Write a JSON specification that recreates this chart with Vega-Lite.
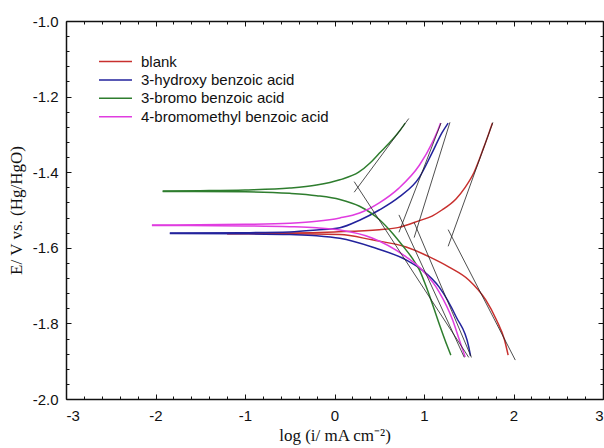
{
  "$schema": "https://vega.github.io/schema/vega-lite/v6.json",
  "width": 537,
  "height": 378,
  "autosize": {"type": "none"},
  "padding": {"left": 66, "top": 21, "right": 1, "bottom": 49},
  "background": "white",
  "config": {
    "view": {"stroke": null},
    "locale": {"number": {"decimal": ".", "thousands": ",", "grouping": [3], "currency": ["$", ""], "minus": "-"}},
    "axis": {"grid": false, "domainColor": "#111", "tickColor": "#111", "domainWidth": 1.5, "tickWidth": 1, "labelFont": "Liberation Sans", "labelFontSize": 15, "labelColor": "#111", "titleFont": "Liberation Serif", "titleFontSize": 17, "titleFontWeight": "normal", "titleColor": "#111"},
    "legend": {"orient": "none", "legendX": 40, "legendY": 31, "title": null, "symbolType": "M-1.94,0H1.94", "symbolSize": 289, "symbolStrokeWidth": 1.5, "labelFont": "Liberation Sans", "labelFontSize": 15, "labelColor": "#111", "labelOffset": 16, "labelLimit": 400, "rowPadding": 0.4}
  },
  "datasets": {
    "curves": [
      {"s": "blank", "b": "a", "x": -1.2, "y": -1.562},
      {"s": "blank", "b": "a", "x": -0.5, "y": -1.561},
      {"s": "blank", "b": "a", "x": 0.0, "y": -1.558},
      {"s": "blank", "b": "a", "x": 0.5, "y": -1.552},
      {"s": "blank", "b": "a", "x": 0.72, "y": -1.546},
      {"s": "blank", "b": "a", "x": 0.95, "y": -1.528},
      {"s": "blank", "b": "a", "x": 1.09, "y": -1.516},
      {"s": "blank", "b": "a", "x": 1.2, "y": -1.5},
      {"s": "blank", "b": "a", "x": 1.36, "y": -1.47},
      {"s": "blank", "b": "a", "x": 1.46, "y": -1.44},
      {"s": "blank", "b": "a", "x": 1.56, "y": -1.4},
      {"s": "blank", "b": "a", "x": 1.67, "y": -1.333},
      {"s": "blank", "b": "a", "x": 1.75, "y": -1.28},
      {"s": "blank", "b": "a", "x": 1.765, "y": -1.27},
      {"s": "blank", "b": "c", "x": -1.2, "y": -1.563},
      {"s": "blank", "b": "c", "x": -0.5, "y": -1.563},
      {"s": "blank", "b": "c", "x": 0.06, "y": -1.565},
      {"s": "blank", "b": "c", "x": 0.42, "y": -1.579},
      {"s": "blank", "b": "c", "x": 0.8, "y": -1.598},
      {"s": "blank", "b": "c", "x": 1.06, "y": -1.624},
      {"s": "blank", "b": "c", "x": 1.28, "y": -1.651},
      {"s": "blank", "b": "c", "x": 1.5, "y": -1.685},
      {"s": "blank", "b": "c", "x": 1.69, "y": -1.738},
      {"s": "blank", "b": "c", "x": 1.81, "y": -1.791},
      {"s": "blank", "b": "c", "x": 1.9, "y": -1.844},
      {"s": "blank", "b": "c", "x": 1.94, "y": -1.884},
      {"s": "3-hydroxy benzoic acid", "b": "a", "x": -1.84, "y": -1.561},
      {"s": "3-hydroxy benzoic acid", "b": "a", "x": -1.0, "y": -1.56},
      {"s": "3-hydroxy benzoic acid", "b": "a", "x": -0.5, "y": -1.558},
      {"s": "3-hydroxy benzoic acid", "b": "a", "x": -0.2, "y": -1.553},
      {"s": "3-hydroxy benzoic acid", "b": "a", "x": 0.06, "y": -1.547},
      {"s": "3-hydroxy benzoic acid", "b": "a", "x": 0.28, "y": -1.527},
      {"s": "3-hydroxy benzoic acid", "b": "a", "x": 0.5, "y": -1.5},
      {"s": "3-hydroxy benzoic acid", "b": "a", "x": 0.72, "y": -1.466},
      {"s": "3-hydroxy benzoic acid", "b": "a", "x": 0.95, "y": -1.413},
      {"s": "3-hydroxy benzoic acid", "b": "a", "x": 1.09, "y": -1.349},
      {"s": "3-hydroxy benzoic acid", "b": "a", "x": 1.2, "y": -1.296},
      {"s": "3-hydroxy benzoic acid", "b": "a", "x": 1.27, "y": -1.27},
      {"s": "3-hydroxy benzoic acid", "b": "c", "x": -1.84, "y": -1.562},
      {"s": "3-hydroxy benzoic acid", "b": "c", "x": -1.0, "y": -1.563},
      {"s": "3-hydroxy benzoic acid", "b": "c", "x": -0.5, "y": -1.565},
      {"s": "3-hydroxy benzoic acid", "b": "c", "x": -0.2, "y": -1.568},
      {"s": "3-hydroxy benzoic acid", "b": "c", "x": 0.06, "y": -1.575},
      {"s": "3-hydroxy benzoic acid", "b": "c", "x": 0.42, "y": -1.598},
      {"s": "3-hydroxy benzoic acid", "b": "c", "x": 0.8, "y": -1.632},
      {"s": "3-hydroxy benzoic acid", "b": "c", "x": 0.98, "y": -1.659},
      {"s": "3-hydroxy benzoic acid", "b": "c", "x": 1.17, "y": -1.704},
      {"s": "3-hydroxy benzoic acid", "b": "c", "x": 1.36, "y": -1.783},
      {"s": "3-hydroxy benzoic acid", "b": "c", "x": 1.5, "y": -1.862},
      {"s": "3-hydroxy benzoic acid", "b": "c", "x": 1.52, "y": -1.886},
      {"s": "3-bromo benzoic acid", "b": "a", "x": -1.92, "y": -1.45},
      {"s": "3-bromo benzoic acid", "b": "a", "x": -1.5, "y": -1.449},
      {"s": "3-bromo benzoic acid", "b": "a", "x": -1.0, "y": -1.447},
      {"s": "3-bromo benzoic acid", "b": "a", "x": -0.5, "y": -1.442},
      {"s": "3-bromo benzoic acid", "b": "a", "x": -0.2, "y": -1.434},
      {"s": "3-bromo benzoic acid", "b": "a", "x": 0.06, "y": -1.42},
      {"s": "3-bromo benzoic acid", "b": "a", "x": 0.27, "y": -1.4},
      {"s": "3-bromo benzoic acid", "b": "a", "x": 0.4, "y": -1.375},
      {"s": "3-bromo benzoic acid", "b": "a", "x": 0.5, "y": -1.35},
      {"s": "3-bromo benzoic acid", "b": "a", "x": 0.65, "y": -1.313},
      {"s": "3-bromo benzoic acid", "b": "a", "x": 0.72, "y": -1.293},
      {"s": "3-bromo benzoic acid", "b": "a", "x": 0.79, "y": -1.27},
      {"s": "3-bromo benzoic acid", "b": "c", "x": -1.92, "y": -1.451},
      {"s": "3-bromo benzoic acid", "b": "c", "x": -1.0, "y": -1.452},
      {"s": "3-bromo benzoic acid", "b": "c", "x": -0.5, "y": -1.456},
      {"s": "3-bromo benzoic acid", "b": "c", "x": -0.2, "y": -1.462},
      {"s": "3-bromo benzoic acid", "b": "c", "x": 0.06, "y": -1.472},
      {"s": "3-bromo benzoic acid", "b": "c", "x": 0.28, "y": -1.49},
      {"s": "3-bromo benzoic acid", "b": "c", "x": 0.5, "y": -1.525},
      {"s": "3-bromo benzoic acid", "b": "c", "x": 0.65, "y": -1.562},
      {"s": "3-bromo benzoic acid", "b": "c", "x": 0.76, "y": -1.594},
      {"s": "3-bromo benzoic acid", "b": "c", "x": 0.87, "y": -1.628},
      {"s": "3-bromo benzoic acid", "b": "c", "x": 0.95, "y": -1.659},
      {"s": "3-bromo benzoic acid", "b": "c", "x": 1.02, "y": -1.7},
      {"s": "3-bromo benzoic acid", "b": "c", "x": 1.09, "y": -1.746},
      {"s": "3-bromo benzoic acid", "b": "c", "x": 1.18, "y": -1.808},
      {"s": "3-bromo benzoic acid", "b": "c", "x": 1.26, "y": -1.86},
      {"s": "3-bromo benzoic acid", "b": "c", "x": 1.3, "y": -1.884},
      {"s": "4-bromomethyl benzoic acid", "b": "a", "x": -2.04, "y": -1.54},
      {"s": "4-bromomethyl benzoic acid", "b": "a", "x": -1.0, "y": -1.538},
      {"s": "4-bromomethyl benzoic acid", "b": "a", "x": -0.5, "y": -1.535},
      {"s": "4-bromomethyl benzoic acid", "b": "a", "x": -0.2, "y": -1.53},
      {"s": "4-bromomethyl benzoic acid", "b": "a", "x": 0.06, "y": -1.521},
      {"s": "4-bromomethyl benzoic acid", "b": "a", "x": 0.28, "y": -1.508},
      {"s": "4-bromomethyl benzoic acid", "b": "a", "x": 0.5, "y": -1.481},
      {"s": "4-bromomethyl benzoic acid", "b": "a", "x": 0.72, "y": -1.442},
      {"s": "4-bromomethyl benzoic acid", "b": "a", "x": 0.95, "y": -1.381},
      {"s": "4-bromomethyl benzoic acid", "b": "a", "x": 1.09, "y": -1.323},
      {"s": "4-bromomethyl benzoic acid", "b": "a", "x": 1.17, "y": -1.28},
      {"s": "4-bromomethyl benzoic acid", "b": "a", "x": 1.185, "y": -1.27},
      {"s": "4-bromomethyl benzoic acid", "b": "c", "x": -2.04, "y": -1.541},
      {"s": "4-bromomethyl benzoic acid", "b": "c", "x": -1.0, "y": -1.542},
      {"s": "4-bromomethyl benzoic acid", "b": "c", "x": -0.5, "y": -1.544},
      {"s": "4-bromomethyl benzoic acid", "b": "c", "x": -0.2, "y": -1.547},
      {"s": "4-bromomethyl benzoic acid", "b": "c", "x": 0.06, "y": -1.553},
      {"s": "4-bromomethyl benzoic acid", "b": "c", "x": 0.42, "y": -1.574},
      {"s": "4-bromomethyl benzoic acid", "b": "c", "x": 0.8, "y": -1.624},
      {"s": "4-bromomethyl benzoic acid", "b": "c", "x": 0.98, "y": -1.659},
      {"s": "4-bromomethyl benzoic acid", "b": "c", "x": 1.17, "y": -1.717},
      {"s": "4-bromomethyl benzoic acid", "b": "c", "x": 1.32, "y": -1.791},
      {"s": "4-bromomethyl benzoic acid", "b": "c", "x": 1.39, "y": -1.84},
      {"s": "4-bromomethyl benzoic acid", "b": "c", "x": 1.46, "y": -1.889}
    ],
    "tafel": [
      {"t": "g-a", "x": 0.22, "y": -1.453},
      {"t": "g-a", "x": 0.83, "y": -1.258},
      {"t": "g-c", "x": 0.22, "y": -1.425},
      {"t": "g-c", "x": 1.5, "y": -1.89},
      {"t": "m-a", "x": 0.72, "y": -1.559},
      {"t": "m-a", "x": 1.19, "y": -1.27},
      {"t": "m-c", "x": 0.72, "y": -1.513},
      {"t": "m-c", "x": 1.45, "y": -1.89},
      {"t": "b-a", "x": 0.89, "y": -1.573},
      {"t": "b-a", "x": 1.29, "y": -1.268},
      {"t": "b-c", "x": 0.89, "y": -1.533},
      {"t": "b-c", "x": 1.53, "y": -1.89},
      {"t": "r-a", "x": 1.27, "y": -1.596},
      {"t": "r-a", "x": 1.77, "y": -1.268},
      {"t": "r-c", "x": 1.27, "y": -1.552},
      {"t": "r-c", "x": 2.02, "y": -1.897}
    ]
  },
  "layer": [
    {
      "data": {"name": "curves"},
      "mark": {"type": "line", "strokeWidth": 1.5, "interpolate": "monotone"},
      "encoding": {
        "x": {"field": "x", "type": "quantitative", "scale": {"domain": [-3, 3], "nice": false, "zero": false},
          "axis": {"orient": "bottom", "values": [-3, -2, -1, 0, 1, 2, 3], "format": "d", "tickSize": -5, "labelPadding": 14, "title": "log (i/ mA cm⁻²)", "titlePadding": 4}},
        "y": {"field": "y", "type": "quantitative", "scale": {"domain": [-2, -1], "nice": false, "zero": false},
          "axis": {"orient": "left", "values": [-2, -1.8, -1.6, -1.4, -1.2, -1], "format": ".1f", "tickSize": -5, "labelPadding": 13, "title": "E/ V vs. (Hg/HgO)", "titlePadding": 7}},
        "color": {"field": "s", "type": "nominal",
          "scale": {"domain": ["blank", "3-hydroxy benzoic acid", "3-bromo benzoic acid", "4-bromomethyl benzoic acid"], "range": ["#c8302e", "#22229c", "#2e7d2e", "#e03ce0"]}},
        "detail": {"field": "b"}
      }
    },
    {
      "data": {"name": "tafel"},
      "mark": {"type": "line", "strokeWidth": 0.8, "color": "#222"},
      "encoding": {
        "x": {"field": "x", "type": "quantitative",
          "axis": {"orient": "bottom", "values": [-2.8, -2.6, -2.4, -2.2, -1.8, -1.6, -1.4, -1.2, -0.8, -0.6, -0.4, -0.2, 0.2, 0.4, 0.6, 0.8, 1.2, 1.4, 1.6, 1.8, 2.2, 2.4, 2.6, 2.8], "labels": false, "domain": false, "tickSize": -3, "title": null}},
        "y": {"field": "y", "type": "quantitative",
          "axis": {"orient": "left", "values": [-1.96, -1.92, -1.88, -1.84, -1.76, -1.72, -1.68, -1.64, -1.56, -1.52, -1.48, -1.44, -1.36, -1.32, -1.28, -1.24, -1.16, -1.12, -1.08, -1.04], "labels": false, "domain": false, "tickSize": -3, "title": null}},
        "detail": {"field": "t"}
      }
    },
    {
      "data": {"name": "tafel"},
      "mark": {"type": "point", "opacity": 0},
      "encoding": {
        "x": {"field": "x", "type": "quantitative",
          "axis": {"orient": "top", "values": [-3, -2, -1, 0, 1, 2, 3], "labels": false, "tickSize": -5, "title": null}},
        "y": {"field": "y", "type": "quantitative",
          "axis": {"orient": "right", "values": [-2, -1.8, -1.6, -1.4, -1.2, -1], "labels": false, "tickSize": -5, "title": null}}
      }
    },
    {
      "data": {"name": "tafel"},
      "mark": {"type": "point", "opacity": 0},
      "encoding": {
        "x": {"field": "x", "type": "quantitative",
          "axis": {"orient": "top", "values": [-2.8, -2.6, -2.4, -2.2, -1.8, -1.6, -1.4, -1.2, -0.8, -0.6, -0.4, -0.2, 0.2, 0.4, 0.6, 0.8, 1.2, 1.4, 1.6, 1.8, 2.2, 2.4, 2.6, 2.8], "labels": false, "domain": false, "tickSize": -3, "title": null}},
        "y": {"field": "y", "type": "quantitative",
          "axis": {"orient": "right", "values": [-1.96, -1.92, -1.88, -1.84, -1.76, -1.72, -1.68, -1.64, -1.56, -1.52, -1.48, -1.44, -1.36, -1.32, -1.28, -1.24, -1.16, -1.12, -1.08, -1.04], "labels": false, "domain": false, "tickSize": -3, "title": null}}
      }
    }
  ],
  "resolve": {"axis": {"x": "independent", "y": "independent"}}
}
